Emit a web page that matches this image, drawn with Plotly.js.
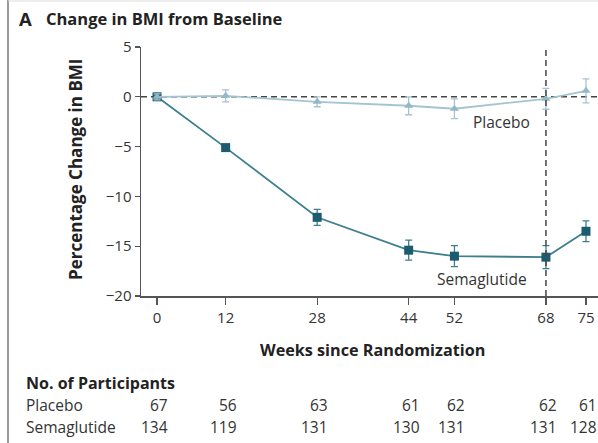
<!DOCTYPE html>
<html>
<head>
<meta charset="utf-8">
<script src="https://cdn.plot.ly/plotly-3.0.1.min.js"></script>
<style>html,body{margin:0;padding:0;background:#fff;}#chart{width:598px;height:443px;}</style>
</head>
<body>
<div id="chart"></div>
<script>
const weeks = [0, 12, 28, 44, 52, 68, 75];
const semaglutide = [0, -5.1, -12.1, -15.4, -16.0, -16.1, -13.5];
const semaglutideErr = [0.2, 0.3, 0.8, 1.0, 1.05, 1.15, 1.05];
const placebo = [0, 0.1, -0.5, -0.9, -1.2, -0.2, 0.6];
const placeboErr = [0.3, 0.6, 0.5, 0.9, 1.0, 1.05, 1.2];
const placeboN = [67, 56, 63, 61, 62, 62, 61];
const semaglutideN = [134, 119, 131, 130, 131, 131, 128];
const yTicks = [5, 0, -5, -10, -15, -20];
const yTickText = ['5', '0', '\u22125', '\u221210', '\u221215', '\u221220'];

const L = 141, R = 598, T = 47, B = 296;
const px = x => (x - L) / (R - L);
const py = y => (B - y) / (B - T);
const FONT = 'Open Sans, Noto Sans, sans-serif';
const TXT = '#333333';

const traces = [
  {
    x: weeks, y: semaglutide, type: 'scatter', mode: 'lines+markers',
    line: {color: '#3e7f8e', width: 1.8},
    marker: {symbol: 'square', size: 9, color: '#1d5b6e'},
    error_y: {type: 'data', array: semaglutideErr, visible: true, color: '#3e7f8e', thickness: 1.3, width: 3.5},
    cliponaxis: false, hoverinfo: 'skip'
  },
  {
    x: weeks, y: placebo, type: 'scatter', mode: 'lines+markers',
    line: {color: '#a3c4d0', width: 1.8},
    marker: {symbol: 'triangle-up', size: 8, color: '#93b7c5'},
    error_y: {type: 'data', array: placeboErr, visible: true, color: '#a3c4d0', thickness: 1.3, width: 3.5},
    cliponaxis: false, hoverinfo: 'skip'
  }
];

const annotations = [
  {text: '<b>A</b>', xref: 'paper', yref: 'paper', x: px(17), y: py(18), xanchor: 'left', yanchor: 'middle', showarrow: false, font: {family: FONT, size: 18.5, color: '#222'}},
  {text: '<b>Change in BMI from Baseline</b>', xref: 'paper', yref: 'paper', x: px(44), y: py(18), xanchor: 'left', yanchor: 'middle', showarrow: false, font: {family: FONT, size: 16.5, color: '#222'}},
  {text: '<b>Percentage Change in BMI</b>', xref: 'paper', yref: 'paper', x: px(75), y: py(170), xanchor: 'center', yanchor: 'middle', textangle: -90, showarrow: false, font: {family: FONT, size: 17, color: '#222'}},
  {text: '<b>Weeks since Randomization</b>', xref: 'paper', yref: 'paper', x: px(372), y: py(350), xanchor: 'center', yanchor: 'middle', showarrow: false, font: {family: FONT, size: 16.2, color: '#222'}},
  {text: 'Placebo', xref: 'x', yref: 'paper', x: 60.3, y: py(122), xanchor: 'center', yanchor: 'middle', showarrow: false, font: {family: FONT, size: 15.5, color: TXT}},
  {text: 'Semaglutide', xref: 'x', yref: 'paper', x: 56.8, y: py(279), xanchor: 'center', yanchor: 'middle', showarrow: false, font: {family: FONT, size: 15.5, color: TXT}},
  {text: '<b>No. of Participants</b>', xref: 'paper', yref: 'paper', x: px(24), y: py(383), xanchor: 'left', yanchor: 'middle', showarrow: false, font: {family: FONT, size: 16, color: '#222'}},
  {text: 'Placebo', xref: 'paper', yref: 'paper', x: px(24), y: py(405), xanchor: 'left', yanchor: 'middle', showarrow: false, font: {family: FONT, size: 15.5, color: TXT}},
  {text: 'Semaglutide', xref: 'paper', yref: 'paper', x: px(24), y: py(427), xanchor: 'left', yanchor: 'middle', showarrow: false, font: {family: FONT, size: 15.5, color: TXT}}
];
weeks.forEach((w, i) => {
  annotations.push({text: String(placeboN[i]), xref: 'x', yref: 'paper', x: w, xshift: 13, y: py(405), xanchor: 'right', yanchor: 'middle', showarrow: false, font: {family: FONT, size: 15.5, color: TXT}});
  annotations.push({text: String(semaglutideN[i]), xref: 'x', yref: 'paper', x: w, xshift: 13, y: py(427), xanchor: 'right', yanchor: 'middle', showarrow: false, font: {family: FONT, size: 15.5, color: TXT}});
});

const shapes = [
  {type: 'line', xref: 'paper', yref: 'y', x0: 0, x1: 1, y0: 0, y1: 0, line: {color: '#444', width: 1.5, dash: '6px,4px'}, layer: 'below'},
  {type: 'line', xref: 'x', yref: 'y', x0: 68, x1: 68, y0: -20, y1: 5, line: {color: '#444', width: 1.5, dash: '6px,4px'}, layer: 'above'},
  {type: 'line', xref: 'paper', yref: 'paper', x0: px(8), x1: px(8), y0: py(0), y1: py(443), line: {color: '#777', width: 1.5}},
  {type: 'line', xref: 'paper', yref: 'paper', x0: px(8), x1: px(598), y0: py(1), y1: py(1), line: {color: '#ddd', width: 1}}
];

const layout = {
  width: 598, height: 443,
  margin: {l: L, r: 598 - R, t: T, b: 443 - B, pad: 0},
  paper_bgcolor: '#fff', plot_bgcolor: '#fff',
  showlegend: false,
  font: {family: FONT, size: 14, color: TXT},
  xaxis: {
    range: [-2.8, 77.1], tickvals: weeks, ticktext: weeks.map(String),
    showline: true, linecolor: '#555', linewidth: 1.5,
    ticks: 'outside', ticklen: 7, tickcolor: '#555', tickwidth: 1.3,
    showgrid: false, zeroline: false, fixedrange: true,
    tickfont: {family: FONT, size: 15, color: TXT}
  },
  yaxis: {
    range: [-20, 5], tickvals: yTicks, ticktext: yTickText,
    showline: true, linecolor: '#555', linewidth: 1.5,
    ticks: 'outside', ticklen: 5, tickcolor: '#555', tickwidth: 1.3,
    showgrid: false, zeroline: false, fixedrange: true,
    tickfont: {family: FONT, size: 15, color: TXT}
  },
  annotations: annotations,
  shapes: shapes
};

Plotly.newPlot('chart', traces, layout, {staticPlot: true, displayModeBar: false});
</script>
</body>
</html>
